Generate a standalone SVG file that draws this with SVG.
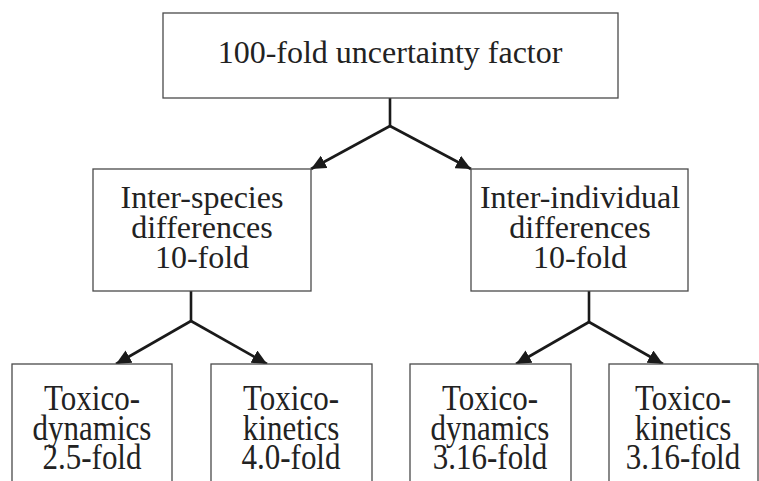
<svg xmlns="http://www.w3.org/2000/svg" width="759" height="481" viewBox="0 0 759 481">
  <style>
    .box { fill: #ffffff; stroke: #4a4a4a; stroke-width: 1.3; }
    .lbl { font-family: "Liberation Serif", "Times New Roman", serif; font-size: 31px; fill: #222222; text-anchor: middle; }
    .lbl-lg { font-size: 32px; }
    .edge { fill: none; stroke: #1a1a1a; stroke-width: 2.6; }
  </style>
  <defs>
    <marker id="arrow" markerUnits="userSpaceOnUse" markerWidth="16" markerHeight="14" refX="15" refY="7" orient="auto">
      <path d="M0,0 L15,7 L0,14 Z" fill="#1a1a1a"/>
    </marker>
  </defs>
  <rect width="759" height="481" fill="#ffffff"/>

  <g id="edges">
    <path class="edge" d="M390,98 V126"/>
    <path class="edge" d="M390,126 L311,169" marker-end="url(#arrow)"/>
    <path class="edge" d="M390,126 L471,169" marker-end="url(#arrow)"/>
    <path class="edge" d="M191,291 V321"/>
    <path class="edge" d="M191,321 L116,364" marker-end="url(#arrow)"/>
    <path class="edge" d="M191,321 L267,364" marker-end="url(#arrow)"/>
    <path class="edge" d="M589,291 V322"/>
    <path class="edge" d="M589,322 L516,364" marker-end="url(#arrow)"/>
    <path class="edge" d="M589,322 L663,364" marker-end="url(#arrow)"/>
  </g>

  <g id="root">
    <rect class="box" x="163" y="13" width="455" height="85"/>
    <text class="lbl lbl-lg" x="390" y="63">100-fold uncertainty factor</text>
  </g>

  <g id="inter-species">
    <rect class="box" x="93" y="169" width="218" height="122"/>
    <text class="lbl lbl-lg" x="202" y="208">Inter-species</text>
    <text class="lbl lbl-lg" x="202" y="238">differences</text>
    <text class="lbl lbl-lg" x="202" y="268">10-fold</text>
  </g>

  <g id="inter-individual">
    <rect class="box" x="471" y="169" width="217" height="122"/>
    <text class="lbl lbl-lg" x="580" y="208">Inter-individual</text>
    <text class="lbl lbl-lg" x="580" y="238">differences</text>
    <text class="lbl lbl-lg" x="580" y="268">10-fold</text>
  </g>

  <!-- leaf labels are set a little taller than wide -->
  <g id="species-dynamics">
    <rect class="box" x="12" y="364" width="160" height="130"/>
    <text class="lbl" transform="translate(92,410) scale(1,1.15)">Toxico-</text>
    <text class="lbl" transform="translate(92,440) scale(1,1.15)">dynamics</text>
    <text class="lbl" transform="translate(92,469) scale(1,1.15)">2.5-fold</text>
  </g>

  <g id="species-kinetics">
    <rect class="box" x="211" y="364" width="161" height="130"/>
    <text class="lbl" transform="translate(291,410) scale(1,1.15)">Toxico-</text>
    <text class="lbl" transform="translate(291,440) scale(1,1.15)">kinetics</text>
    <text class="lbl" transform="translate(291,469) scale(1,1.15)">4.0-fold</text>
  </g>

  <g id="individual-dynamics">
    <rect class="box" x="410" y="364" width="161" height="130"/>
    <text class="lbl" transform="translate(490,410) scale(1,1.15)">Toxico-</text>
    <text class="lbl" transform="translate(490,440) scale(1,1.15)">dynamics</text>
    <text class="lbl" transform="translate(490,469) scale(1,1.15)">3.16-fold</text>
  </g>

  <g id="individual-kinetics">
    <rect class="box" x="609" y="364" width="149" height="130"/>
    <text class="lbl" transform="translate(683,410) scale(1,1.15)">Toxico-</text>
    <text class="lbl" transform="translate(683,440) scale(1,1.15)">kinetics</text>
    <text class="lbl" transform="translate(683,469) scale(1,1.15)">3.16-fold</text>
  </g>
</svg>
